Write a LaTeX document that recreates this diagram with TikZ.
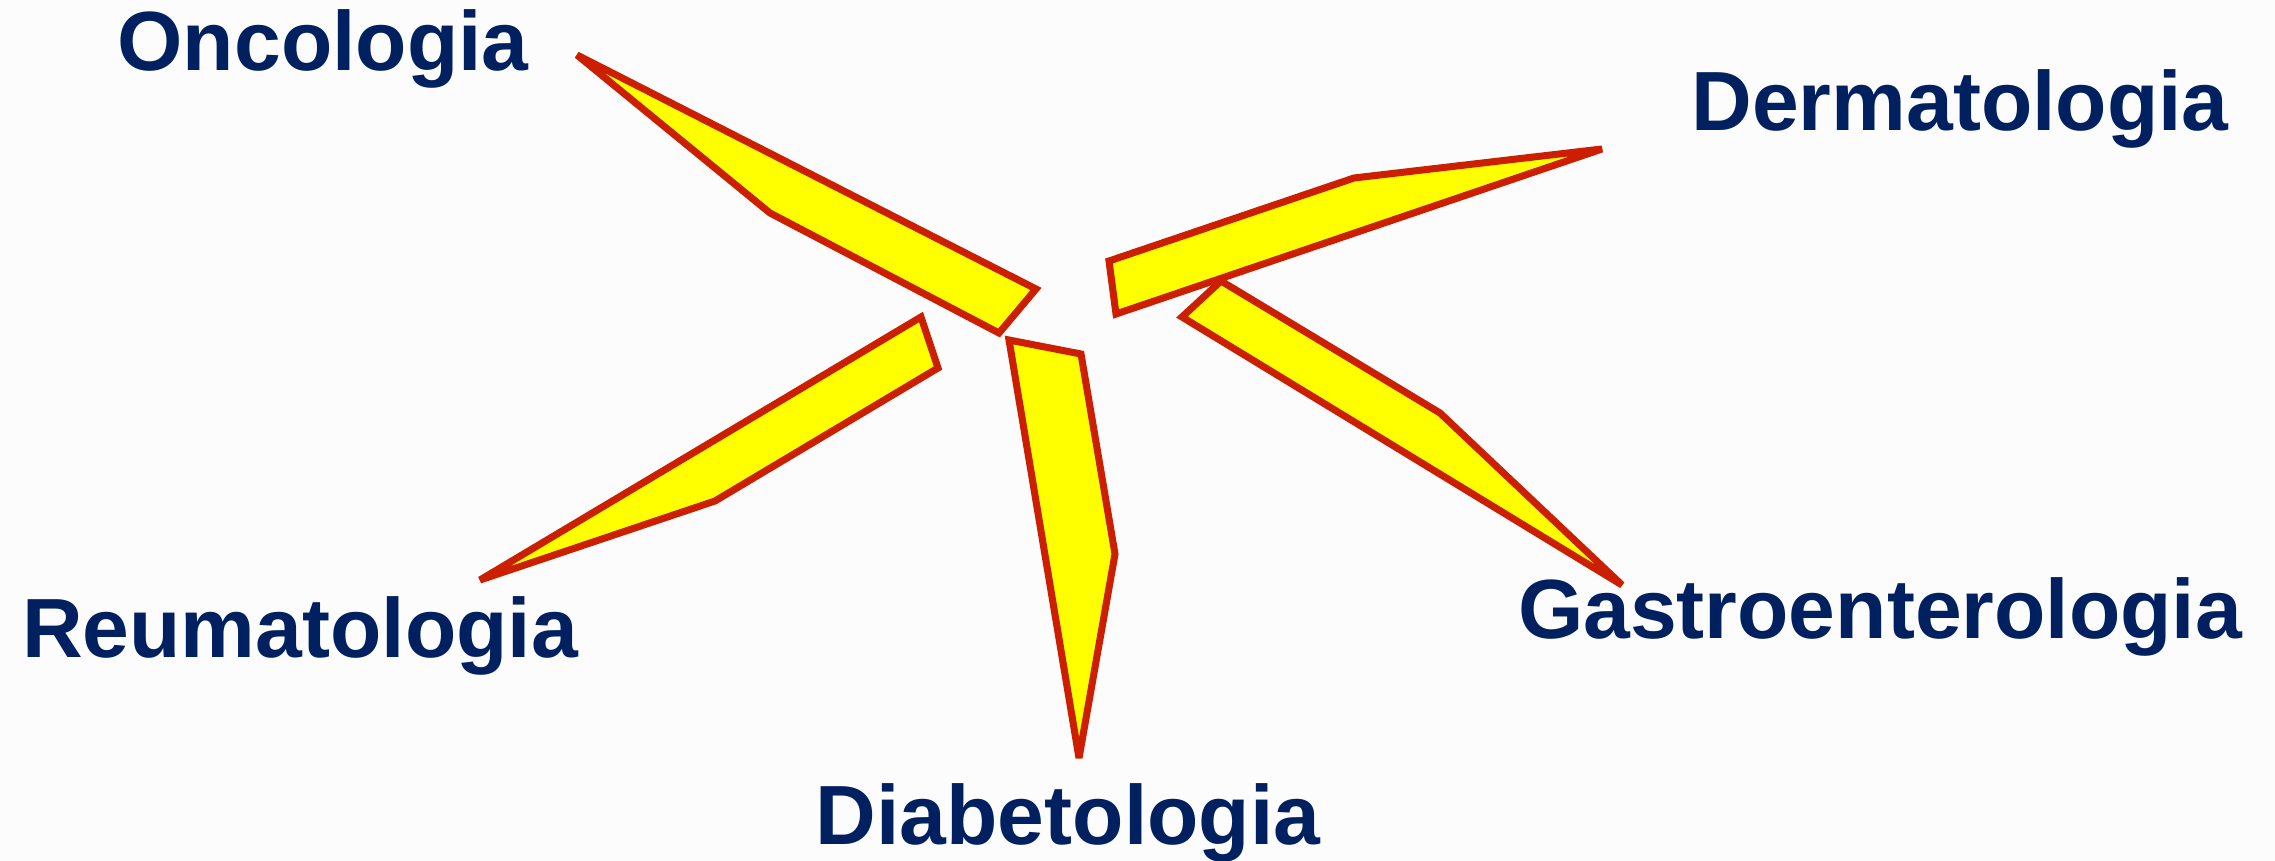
\documentclass[tikz,border=0pt]{standalone}
\usepackage{fontspec}
\setmainfont{Liberation Sans}
\usepackage{tikz}

\definecolor{bladered}{RGB}{204,30,0}
\definecolor{bladefill}{RGB}{255,255,0}
\definecolor{labelblue}{RGB}{0,32,96}
\definecolor{paper}{RGB}{252,252,252}

\begin{document}
\begin{tikzpicture}[
    x=0.01cm,
    y=-0.01cm,
    blade/.style={draw=bladered, fill=bladefill, line width=2pt, line join=miter, miter limit=4},
    label/.style={font=\fontsize{23.9}{28}\selectfont\bfseries, text=labelblue, inner sep=0pt, anchor=base}
  ]
    \fill[paper] (0,0) rectangle (2275,861);
    \useasboundingbox (0,0) rectangle (2275,861);

    % the five blades
    \draw[blade] (577,55) -- (1036,289) -- (999,333) -- (770,213) -- cycle;
    \draw[blade] (1602,149) -- (1354,178) -- (1109,261) -- (1116,314) -- cycle;
    \draw[blade] (1221,281) -- (1440,413) -- (1622,585) -- (1182,317) -- cycle;
    \draw[blade] (1009,340) -- (1081,354) -- (1115,554) -- (1079,758) -- cycle;
    \draw[blade] (921,317) -- (938,368) -- (715,501) -- (480,580) -- cycle;

    % labels
    \foreach \name/\x/\y in {
      Oncologia/323/71,
      Dermatologia/1960/131,
      Gastroenterologia/1880/639,
      Diabetologia/1068/844,
      Reumatologia/300/657
    } {
      \node[label] (\name) at (\x,\y) {\name};
    }
  \end{tikzpicture}
\end{document}
